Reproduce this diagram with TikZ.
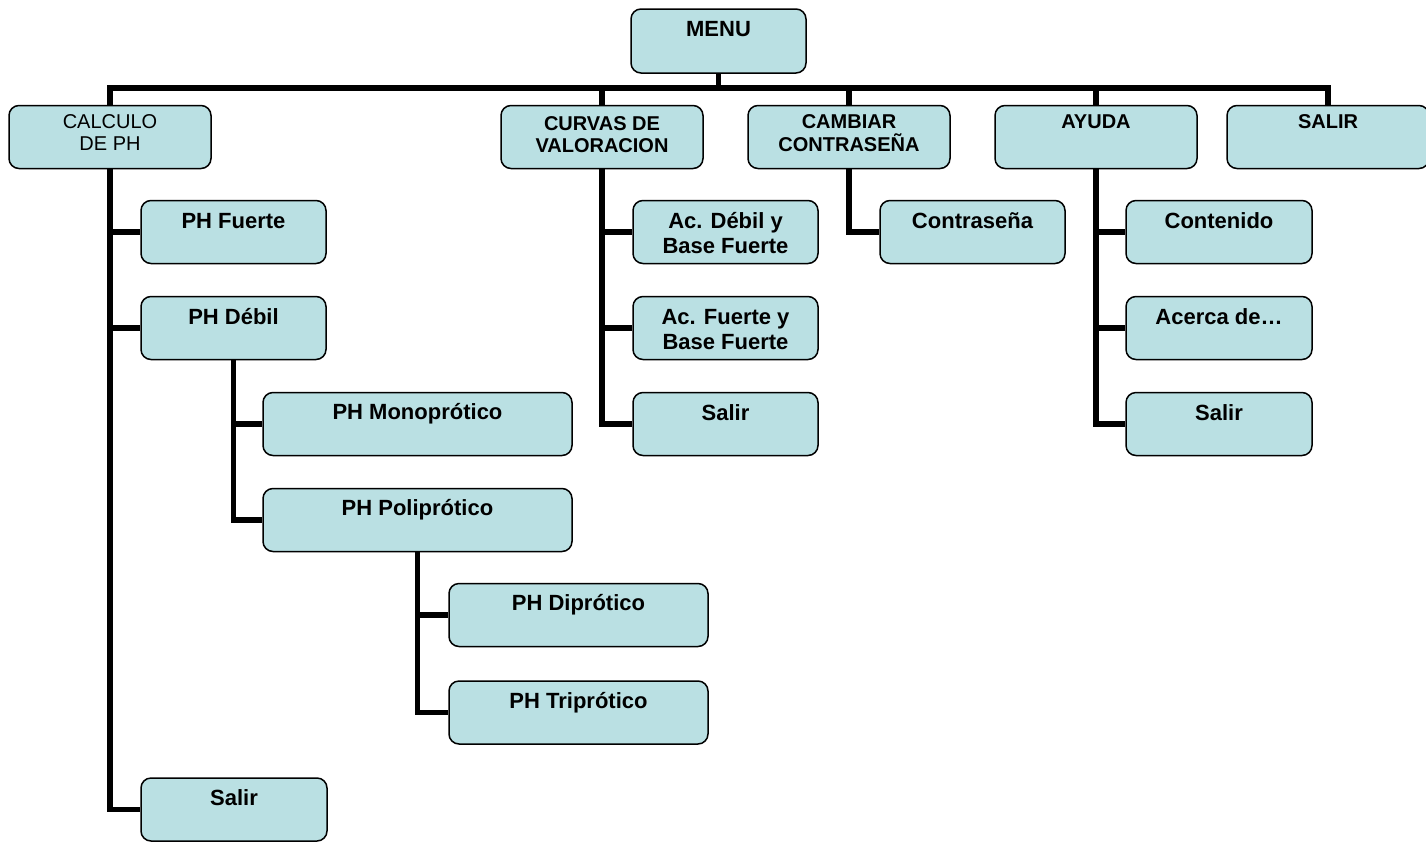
\documentclass[tikz,border=0pt]{standalone}
\usepackage{fontspec}
\setmainfont{Liberation Sans}
\definecolor{boxfill}{RGB}{186,224,227}
% two centred lines, baseline of the node is the first line
\newcommand\stacklines[3]{\vtop{\baselineskip=#3\relax\halign{\hfil##\hfil\cr#1\cr#2\cr}}}

\begin{document}
\begin{tikzpicture}[x=1pt,y=-1pt,
  box/.style={draw=black, line width=1.5pt, fill=boxfill, rounded corners=10pt, inner sep=0pt},
  topbox/.style={box, minimum width=202pt, minimum height=63pt},
  subbox/.style={box, minimum width=185pt, minimum height=63pt},
  conn/.style={line width=5.5pt, line join=miter},
  lbl/.style={anchor=base, inner sep=0pt, font=\fontsize{22}{25}\selectfont\bfseries},
  toplbl/.style={anchor=base, inner sep=0pt, font=\fontsize{20}{22}\selectfont\bfseries},
  topreg/.style={anchor=base, inner sep=0pt, font=\fontsize{20}{22}\selectfont},
]
\useasboundingbox (0,0) rectangle (1426,841);

% root
\node[box, minimum width=175pt, minimum height=64pt] (menu) at (718.5,41) {};
\coordinate (bus) at (0,88);

% first level
\node[topbox] (calc)    at (110,137)  {};
\node[topbox] (curvas)  at (602,137)  {};
\node[topbox] (cambiar) at (849,137)  {};
\node[topbox] (ayuda)   at (1096,137) {};
\node[topbox] (salir)   at (1328,137) {};

% CALCULO DE PH branch
\node[subbox] (fuerte) at (233.5,232) {};
\node[subbox] (debil)  at (233.5,328) {};
\node[box, minimum width=309pt, minimum height=63pt] (mono) at (417.5,424) {};
\node[box, minimum width=309pt, minimum height=63pt] (poli) at (417.5,520) {};
\node[box, minimum width=259pt, minimum height=63pt] (di)   at (578.5,615) {};
\node[box, minimum width=259pt, minimum height=63pt] (tri)  at (578.5,712.5) {};
\node[subbox, minimum width=186pt] (salirA) at (234,809.5) {};

% CURVAS DE VALORACION branch
\node[subbox] (acdebil)  at (725.5,232) {};
\node[subbox] (acfuerte) at (725.5,328) {};
\node[subbox] (salirB)   at (725.5,424) {};

% CAMBIAR CONTRASEÑA branch
\node[subbox] (contr) at (972.5,232) {};

% AYUDA branch
\node[subbox, minimum width=186pt] (conten) at (1219,232) {};
\node[subbox, minimum width=186pt] (acerca) at (1219,328) {};
\node[subbox, minimum width=186pt] (salirC) at (1219,424) {};

% labels
\node[lbl] (menu-t) at ([yshift=-28pt]menu.north) {MENU};
\node[topreg] (calc-t) at ([yshift=-24pt]calc.north) {\stacklines{CALCULO}{DE PH}{22pt}};
\node[toplbl] (curvas-t) at ([yshift=-26pt]curvas.north) {\stacklines{CURVAS DE}{VALORACION}{22pt}};
\node[toplbl] (cambiar-t) at ([yshift=-24pt]cambiar.north) {\stacklines{CAMBIAR}{CONTRASEÑA}{23pt}};
\node[toplbl] (ayuda-t) at ([yshift=-24pt]ayuda.north) {AYUDA};
\node[toplbl] (salir-t) at ([yshift=-24pt]salir.north) {SALIR};

\node[lbl] (fuerte-t) at ([yshift=-28.5pt]fuerte.north) {PH Fuerte};
\node[lbl] (debil-t)  at ([yshift=-28.5pt]debil.north)  {PH Débil};
\node[lbl] (mono-t)   at ([yshift=-28pt]mono.north)   {PH Monoprótico};
\node[lbl] (poli-t)   at ([yshift=-28pt]poli.north)   {PH Poliprótico};
\node[lbl] (di-t)     at ([yshift=-28pt]di.north)     {PH Diprótico};
\node[lbl] (tri-t)    at ([yshift=-28pt]tri.north)    {PH Triprótico};
\node[lbl] (salirA-t) at ([yshift=-28pt]salirA.north) {Salir};

\node[lbl] (acdebil-t)  at ([yshift=-29pt]acdebil.north)  {\stacklines{Ac. Débil y}{Base Fuerte}{25pt}};
\node[lbl] (acfuerte-t) at ([yshift=-29pt]acfuerte.north) {\stacklines{Ac. Fuerte y}{Base Fuerte}{25pt}};
\node[lbl] (salirB-t)   at ([yshift=-28.5pt]salirB.north) {Salir};

\node[lbl] (contr-t) at ([yshift=-29pt]contr.north) {Contraseña};

\node[lbl] (conten-t) at ([yshift=-29pt]conten.north) {Contenido};
\node[lbl] (acerca-t) at ([yshift=-29pt]acerca.north) {Acerca de…};
\node[lbl] (salirC-t) at ([yshift=-29pt]salirC.north) {Salir};

% connectors: root to first level along the bus
\foreach \n in {calc,curvas,cambiar,ayuda,salir}
  \draw[conn] (menu.south) -- (menu.south |- bus) -| (\n.north);

% connectors: sub-menus
\foreach \n in {fuerte,debil,salirA} \draw[conn] (calc.south) |- (\n.west);
\foreach \n in {mono,poli} \draw[conn] (debil.south) |- (\n.west);
\foreach \n in {di,tri} \draw[conn] (poli.south) |- (\n.west);
\foreach \n in {acdebil,acfuerte,salirB} \draw[conn] (curvas.south) |- (\n.west);
\draw[conn] (cambiar.south) |- (contr.west);
\foreach \n in {conten,acerca,salirC} \draw[conn] (ayuda.south) |- (\n.west);
\end{tikzpicture}
\end{document}
